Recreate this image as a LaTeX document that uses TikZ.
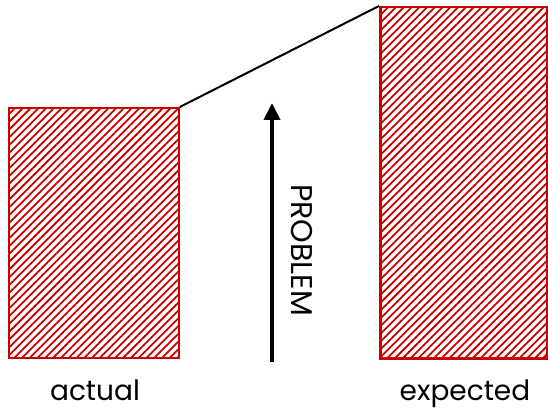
\documentclass[tikz,border=0pt]{standalone}
\usepackage{fontspec}
\setmainfont{Poppins}
\usetikzlibrary{patterns.meta,arrows.meta}
\definecolor{barred}{RGB}{200,0,0}
\tikzset{
  bar/.style={draw=barred, line width=2.5pt, pattern={Lines[angle=45,distance=5.5pt,line width=1.8pt]}, pattern color=barred},
  lbl/.style={font=\fontsize{28}{32}\selectfont, text=black, inner sep=0pt}
}
\begin{document}
\begin{tikzpicture}[x=1pt,y=-1pt]
\useasboundingbox (0,0) rectangle (548,411);
\node[bar, minimum width=170pt, minimum height=250pt, anchor=north west, inner sep=0pt] (actual) at (8,107) {};
\node[bar, minimum width=167pt, minimum height=351pt, anchor=north west, inner sep=0pt] (expected) at (379,6) {};
\draw[line width=2pt] (actual.north east) -- (expected.north west);
\coordinate (abot) at (272,362);
\coordinate (atop) at (272,103);
\draw[line width=4pt, -{Triangle[length=17pt,width=16pt]}] (abot) -- (atop);
\node[lbl, rotate=-90, font=\fontsize{30}{34}\selectfont] (problem) at (302,250) {PROBLEM};
\node[lbl, anchor=base] (lact) at (95,400) {actual};
\node[lbl, anchor=base] (lexp) at (465,400) {expected};
\end{tikzpicture}
\end{document}
